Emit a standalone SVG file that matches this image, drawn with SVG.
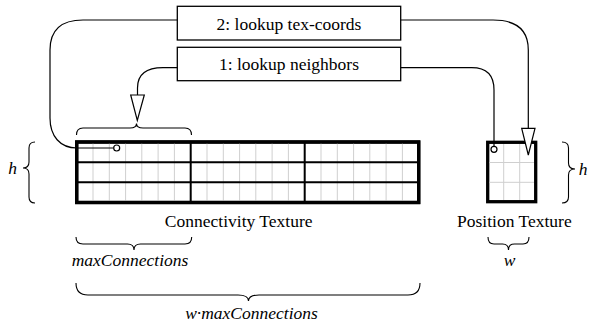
<svg xmlns="http://www.w3.org/2000/svg" width="595" height="330" viewBox="0 0 595 330">
  <style>
    .box { fill: #fff; stroke: #000; stroke-width: 1.3; }
    .wire { fill: none; stroke: #000; stroke-width: 1.2; }
    .brace { fill: none; stroke: #000; stroke-width: 1.1; }
    .frame { fill: #fff; stroke: #000; stroke-width: 3.3; }
    .fine { fill: none; stroke: #cfcfcf; stroke-width: 1; }
    .div { fill: none; stroke: #000; stroke-width: 2; }
    .head { fill: #fff; stroke: #000; stroke-width: 1.2; }
    .pin { fill: #fff; stroke: #000; stroke-width: 1.2; }
  </style>

  <!-- all labels share one serif face -->
  <g font-family="Liberation Serif, Times New Roman, serif" font-size="17.5" fill="#000">

  <!-- connectivity texture: 3 texels of maxConnections (7) entries, 3 rows -->
  <g id="connectivity-texture">
    <rect class="frame" x="76.7" y="142" width="342" height="60.5"/>
    <path class="fine" d="M93,142V202.5M109.3,142V202.5M125.6,142V202.5M141.8,142V202.5M158.1,142V202.5M174.4,142V202.5
      M207,142V202.5M223.3,142V202.5M239.6,142V202.5M255.8,142V202.5M272.1,142V202.5M288.4,142V202.5
      M321,142V202.5M337.3,142V202.5M353.6,142V202.5M369.8,142V202.5M386.1,142V202.5M402.4,142V202.5"/>
    <path class="div" d="M190.7,142V202.5M304.7,142V202.5M76.7,162.3H418.7M76.7,182.3H418.7"/>
    <rect x="76.7" y="142" width="342" height="60.5" fill="none" stroke="#000" stroke-width="3.3"/>
    <text x="238.7" y="227" text-anchor="middle">Connectivity Texture</text>
  </g>

  <!-- position texture: w x h texels -->
  <g id="position-texture">
    <rect class="frame" x="487.7" y="142.3" width="48" height="59.4"/>
    <path class="fine" d="M503.7,144V200M519.7,144V200M489.5,162.5H534M489.5,182.3H534"/>
    <text x="514.4" y="227" text-anchor="middle">Position Texture</text>
  </g>

  <g id="step-2">
    <rect class="box" x="177.3" y="6.3" width="223.4" height="33.7"/>
    <text x="289" y="29.5" text-anchor="middle">2: lookup tex-coords</text>
  </g>

  <g id="step-1">
    <rect class="box" x="177.3" y="47.3" width="223.4" height="33.4"/>
    <text x="289" y="70" text-anchor="middle">1: lookup neighbors</text>
  </g>

  <!-- dimension braces and labels -->
  <g id="dim-h-left">
    <path class="brace" d="M35,142 Q29,142 29,148 L29,162 Q29,168 23,168 Q29,168 29,174 L29,197 Q29,203 35,203"/>
    <text font-style="italic" x="12.5" y="173.5" text-anchor="middle">h</text>
  </g>
  <g id="dim-h-right">
    <path class="brace" d="M562,142 Q568.5,142 568.5,148 L568.5,163 Q568.5,169 575,169 Q568.5,169 568.5,175 L568.5,197 Q568.5,203 562,203"/>
    <text font-style="italic" x="583" y="175" text-anchor="middle">h</text>
  </g>
  <g id="dim-entry">
    <path class="brace" d="M76.5,135 Q76.5,128 83,128 L130,128 Q136.5,128 136.5,123.5 Q136.5,128 143,128 L185,128 Q191.5,128 191.5,135"/>
  </g>
  <g id="dim-maxconnections">
    <path class="brace" d="M76,237 Q76,244 83,244 L127.5,244 Q134,244 134,250 Q134,244 140.5,244 L185,244 Q191.7,244 191.7,237"/>
    <text font-style="italic" x="130" y="266" text-anchor="middle">maxConnections</text>
  </g>
  <g id="dim-w">
    <path class="brace" d="M488,237 Q488,244 494,244 L502.5,244 Q508.5,244 508.5,250 Q508.5,244 514.5,244 L523,244 Q529,244 529,237"/>
    <text font-style="italic" x="509.5" y="266" text-anchor="middle">w</text>
  </g>
  <g id="dim-total">
    <path class="brace" d="M76,283 Q76,295 88,295 L238,295 Q248.5,295 248.5,301 Q248.5,295 259,295 L408,295 Q420,295 420,283"/>
    <text font-style="italic" x="251.5" y="318.5" text-anchor="middle">w·maxConnections</text>
  </g>

  </g>

  <!-- lookup connectors -->
  <g id="connectors">
    <path class="wire" d="M177.3,20 L83,20 Q50,20 50,50 L50,118 C50,136 60,148 77,148 L113.7,148"/>
    <circle class="pin" cx="116.7" cy="148" r="3"/>
    <path class="wire" d="M177.3,67.7 L163,67.7 Q137.5,67.7 137.5,88 L137.5,95"/>
    <polygon class="head" points="130.7,95 144.3,95 137.3,120.5"/>
    <path class="wire" d="M400.7,20 L493,20 Q528.3,20 528.3,50 L528.3,128.3"/>
    <polygon class="head" points="521.7,128.3 535,128.3 528.3,155"/>
    <path class="wire" d="M400.7,67.7 L471.7,67.7 Q494,67.7 494,90 L494,146.3"/>
    <circle class="pin" cx="494" cy="149.3" r="3"/>
  </g>
</svg>
